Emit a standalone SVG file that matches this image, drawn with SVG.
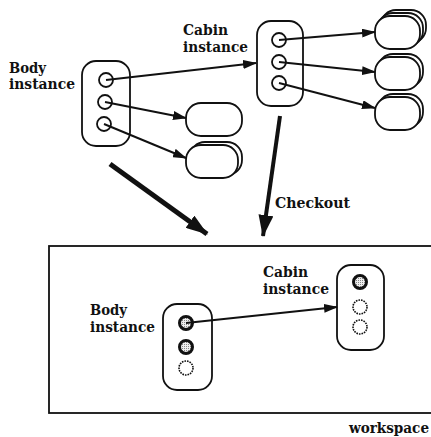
<svg xmlns="http://www.w3.org/2000/svg" width="431" height="437" viewBox="0 0 431 437">
<style>
text{font-family:"DejaVu Serif","Liberation Serif",serif;font-weight:bold;font-size:14px;fill:#111}
.box{fill:#fff;stroke:#111;stroke-width:1.8}
.c{fill:#fff;stroke:#111;stroke-width:1.8}
.cf{fill:url(#dots);stroke:#111;stroke-width:3}
.cd{fill:#fff;stroke:#111;stroke-width:1.6;stroke-dasharray:1.6 1}
.ln{fill:none;stroke:#111;stroke-width:1.9;marker-end:url(#ah)}
.obj{fill:#fff;stroke:#111;stroke-width:1.8}
</style>
<defs>
<pattern id="dots" width="2" height="2" patternUnits="userSpaceOnUse">
<rect width="2" height="2" fill="#eee"/>
<rect width="1" height="1" fill="#888"/>
</pattern>
<marker id="ah" markerUnits="userSpaceOnUse" markerWidth="14" markerHeight="9" refX="13" refY="4.5" orient="auto">
<path d="M0,0 L14,4.5 L0,9 Z" fill="#111"/>
</marker>
<marker id="big" markerUnits="userSpaceOnUse" markerWidth="22" markerHeight="15" refX="21" refY="7.5" orient="auto">
<path d="M0,0 L22,7.5 L0,15 Z" fill="#111"/>
</marker>
</defs>

<g id="workspace">
<rect x="49" y="246" width="400" height="167" fill="none" stroke="#111" stroke-width="1.8"/>
<text x="349" y="433" textLength="80" lengthAdjust="spacingAndGlyphs">workspace</text>
</g>

<g id="body-top">
<text x="9" y="73" textLength="37" lengthAdjust="spacingAndGlyphs">Body</text>
<text x="9" y="89" textLength="66" lengthAdjust="spacingAndGlyphs">instance</text>
<rect class="box" x="82" y="61" width="48" height="85" rx="14"/>
<circle class="c" cx="106" cy="80" r="7"/>
<circle class="c" cx="105" cy="102" r="7"/>
<circle class="c" cx="104" cy="124" r="7"/>
</g>

<g id="cabin-top">
<text x="183" y="35" textLength="45" lengthAdjust="spacingAndGlyphs">Cabin</text>
<text x="183" y="52" textLength="65" lengthAdjust="spacingAndGlyphs">instance</text>
<rect class="box" x="257" y="21" width="46" height="85" rx="14"/>
<circle class="c" cx="279" cy="40" r="7"/>
<circle class="c" cx="279" cy="62" r="7"/>
<circle class="c" cx="279" cy="83" r="7"/>
</g>

<g id="obj-a">
<rect class="obj" x="186" y="103" width="56" height="33" rx="15"/>
</g>
<g id="obj-b">
<rect class="obj" x="190" y="142" width="52" height="33" rx="15"/>
<rect class="obj" x="186" y="145" width="52" height="33" rx="15"/>
</g>
<g id="obj-c">
<rect class="obj" x="381" y="10" width="45" height="33" rx="15"/>
<rect class="obj" x="378" y="13" width="45" height="33" rx="15"/>
<rect class="obj" x="375" y="16" width="45" height="33" rx="15"/>
</g>
<g id="obj-d">
<rect class="obj" x="378" y="54" width="45" height="33" rx="15"/>
<rect class="obj" x="375" y="57" width="45" height="33" rx="15"/>
</g>
<g id="obj-e">
<rect class="obj" x="378" y="94" width="45" height="33" rx="15"/>
<rect class="obj" x="375" y="97" width="45" height="33" rx="15"/>
</g>

<g id="body-ws">
<text x="90" y="315" textLength="37" lengthAdjust="spacingAndGlyphs">Body</text>
<text x="90" y="332" textLength="65" lengthAdjust="spacingAndGlyphs">instance</text>
<rect class="box" x="163" y="304" width="49" height="86" rx="14" stroke-width="2.4"/>
<circle class="cf" cx="186" cy="323" r="6.5"/>
<circle class="cf" cx="186" cy="347" r="6.5"/>
<circle class="cd" cx="186" cy="368" r="7"/>
</g>

<g id="cabin-ws">
<text x="263" y="277" textLength="45" lengthAdjust="spacingAndGlyphs">Cabin</text>
<text x="263" y="294" textLength="66" lengthAdjust="spacingAndGlyphs">instance</text>
<rect class="box" x="337" y="265" width="47" height="85" rx="14" stroke-width="2.4"/>
<circle class="cf" cx="360" cy="282" r="6.5"/>
<circle class="cd" cx="360" cy="307" r="7"/>
<circle class="cd" cx="360" cy="327" r="7"/>
</g>

<g id="connectors">
<line class="ln" x1="106" y1="80" x2="256" y2="63"/>
<line class="ln" x1="105" y1="102" x2="186" y2="118"/>
<line class="ln" x1="104" y1="124" x2="186" y2="158"/>
<line class="ln" x1="279" y1="40" x2="375" y2="32"/>
<line class="ln" x1="279" y1="62" x2="375" y2="72"/>
<line class="ln" x1="279" y1="83" x2="375" y2="108"/>
<line class="ln" x1="186" y1="323" x2="337" y2="307"/>
<line x1="110" y1="164" x2="207" y2="234" stroke="#111" stroke-width="5" marker-end="url(#big)"/>
<line x1="280" y1="116" x2="263" y2="236" stroke="#111" stroke-width="4" marker-end="url(#big)"/>
<text x="275" y="208" textLength="75" lengthAdjust="spacingAndGlyphs">Checkout</text>
</g>
</svg>
